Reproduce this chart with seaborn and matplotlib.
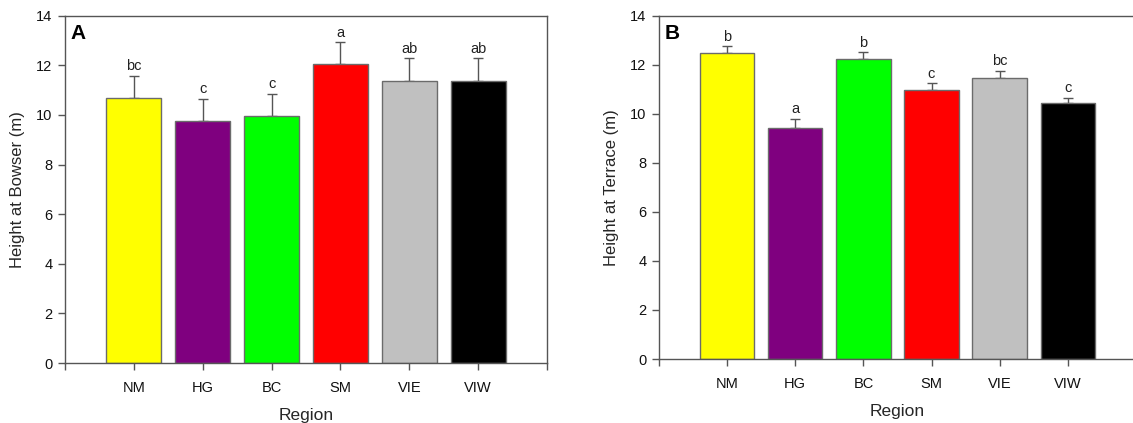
import matplotlib
matplotlib.use("Agg")
import matplotlib.pyplot as plt
import seaborn as sns
import pandas as pd
import numpy as np

regions = ["NM", "HG", "BC", "SM", "VIE", "VIW"]
colors = ["#FFFF00", "#7F007F", "#00FF00", "#FF0000", "#C0C0C0", "#000000"]

bowser_mean = [10.68, 9.75, 9.97, 12.04, 11.38, 11.38]
bowser_err = [0.90, 0.91, 0.89, 0.90, 0.90, 0.90]
bowser_letters = ["bc", "c", "c", "a", "ab", "ab"]

terrace_mean = [12.47, 9.40, 12.22, 10.97, 11.45, 10.42]
terrace_err = [0.28, 0.39, 0.29, 0.28, 0.30, 0.23]
terrace_letters = ["b", "a", "b", "c", "bc", "c"]

yticks = [0, 2, 4, 6, 8, 10, 12, 14]

sns.set_theme(style="ticks")
plt.rcParams['font.family'] = ['Liberation Sans', 'DejaVu Sans']

fig = plt.figure(figsize=(11.33, 4.23), dpi=100)
axA = fig.add_axes([0.0574, 0.1418, 0.4254, 0.8211])
axB = fig.add_axes([0.5816, 0.1513, 0.4210, 0.8116])

spine_col = "#555555"


def panel(ax, mean, err, letters, ylabel, tag):
    df = pd.DataFrame({"Region": regions, "Height": mean})
    sns.barplot(data=df, x="Region", y="Height", hue="Region", palette=colors,
                order=regions, hue_order=regions, errorbar=None, legend=False,
                saturation=1, width=0.8, edgecolor="#6b6b6b", linewidth=1.0,
                ax=ax, zorder=2)
    x = np.arange(len(regions))
    ax.errorbar(x, mean, yerr=[np.zeros(len(err)), err], fmt="none",
                ecolor="#555555", elinewidth=1.0, capsize=3.5, capthick=1.0, zorder=1)
    for xi, m, e, lab in zip(x, mean, err, letters):
        ax.text(xi, m + e + 0.1, lab, ha="center", va="bottom", fontsize=10.5, color="#222222")
    ax.set_xlim(-1, 6)
    ax.set_ylim(0, 14)
    ax.set_yticks(yticks)
    ax.set_yticklabels([str(t) for t in yticks], fontsize=10.5)
    ax.set_xticks(list(range(-1, 7)))
    ax.set_xticklabels([""] + regions + [""], fontsize=10.5)
    ax.set_xlabel("Region", fontsize=12.5, labelpad=9)
    ax.set_ylabel(ylabel, fontsize=12, labelpad=8)
    for s in ax.spines.values():
        s.set_visible(True)
        s.set_color(spine_col)
        s.set_linewidth(1.0)
    ax.tick_params(axis="both", direction="out", length=5, width=1.0, color=spine_col,
                   labelcolor="#111111", pad=4)
    ax.tick_params(axis="x", pad=8)
    ax.text(0.012, 0.975, tag, transform=ax.transAxes, fontsize=15, fontweight="bold",
            ha="left", va="top", color="black")


panel(axA, bowser_mean, bowser_err, bowser_letters, "Height at Bowser (m)", "A")
panel(axB, terrace_mean, terrace_err, terrace_letters, "Height at Terrace (m)", "B")

fig.savefig("out.png", dpi=100)
